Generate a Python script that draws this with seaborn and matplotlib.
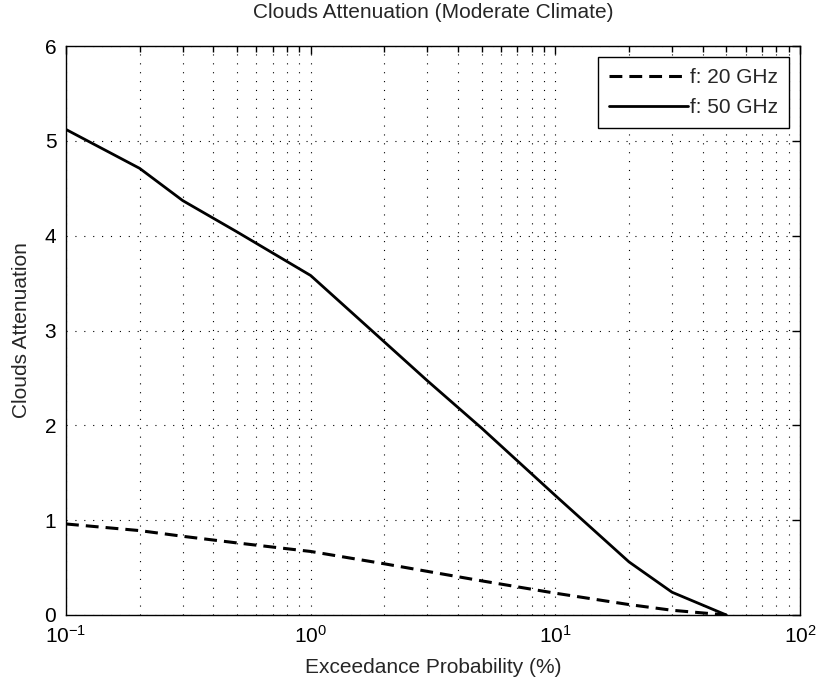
import matplotlib
matplotlib.use("Agg")
import matplotlib.pyplot as plt
import seaborn as sns
import pandas as pd
from matplotlib.ticker import LogLocator

# Exceedance probabilities (%) and cloud attenuation (dB) for two frequencies
prob = [0.1, 0.2, 0.3, 0.5, 1, 2, 3, 5, 10, 20, 30, 50]
att_20ghz = [0.96, 0.89, 0.83, 0.76, 0.67, 0.54, 0.46, 0.36, 0.23, 0.11, 0.05, 0.0]
att_50ghz = [5.12, 4.71, 4.37, 4.04, 3.58, 2.88, 2.47, 1.97, 1.26, 0.56, 0.24, 0.0]
series_labels = ["f: 20 GHz", "f: 50 GHz"]

df = pd.concat([
    pd.DataFrame({"p": prob, "a": att_20ghz, "f": series_labels[0]}),
    pd.DataFrame({"p": prob, "a": att_50ghz, "f": series_labels[1]}),
])

sns.set_style("white")
plt.rcParams["font.family"] = ["Liberation Sans", "DejaVu Sans"]
plt.rcParams["mathtext.fontset"] = "custom"
plt.rcParams["mathtext.rm"] = "Liberation Sans"
plt.rcParams["mathtext.it"] = "Liberation Sans"
plt.rcParams["mathtext.default"] = "regular"
plt.rcParams["axes.unicode_minus"] = False

FS = 15

fig = plt.figure(figsize=(8.19, 6.86), dpi=100)
ax = fig.add_axes([0.0806, 0.1035, 0.8962, 0.8294])

sns.lineplot(data=df[df.f == series_labels[0]], x="p", y="a", color="black",
             linewidth=2.2, linestyle=(0, (4.2, 2.3)), label=series_labels[0], ax=ax)
sns.lineplot(data=df[df.f == series_labels[1]], x="p", y="a", color="black",
             linewidth=2.0, linestyle="-", label=series_labels[1], ax=ax)

ax.set_xscale("log")
ax.set_xlim(0.1, 100)
ax.set_ylim(0, 6)
ax.set_yticks(range(0, 7))
ax.xaxis.set_major_locator(LogLocator(base=10, numticks=10))
ax.xaxis.set_minor_locator(LogLocator(base=10, subs=range(2, 10), numticks=20))

dots = (0, (1, 7))
ax.grid(True, which="major", axis="both", color="black", linestyle=dots, linewidth=0.8)
ax.grid(True, which="minor", axis="x", color="black", linestyle=dots, linewidth=0.8)

ax.tick_params(which="both", direction="in", top=True, right=True, colors="black",
               labelsize=FS)
ax.tick_params(which="major", length=6, width=1, pad=7)
ax.tick_params(which="minor", length=4, width=1)
for s in ax.spines.values():
    s.set_color("black")
    s.set_linewidth(1)

ax.set_xlabel("Exceedance Probability (%)", fontsize=FS, labelpad=8)
ax.set_ylabel("Clouds Attenuation", fontsize=FS, labelpad=10)
ax.set_title("Clouds Attenuation (Moderate Climate)", fontsize=FS, pad=20)

leg = ax.legend(loc="upper right", fancybox=False, edgecolor="black", framealpha=1,
                fontsize=FS, handlelength=3.8, handletextpad=0.1, borderaxespad=0.55,
                labelspacing=0.55, borderpad=0.5)
leg.get_frame().set_linewidth(1)

fig.savefig("out.png", dpi=100)
